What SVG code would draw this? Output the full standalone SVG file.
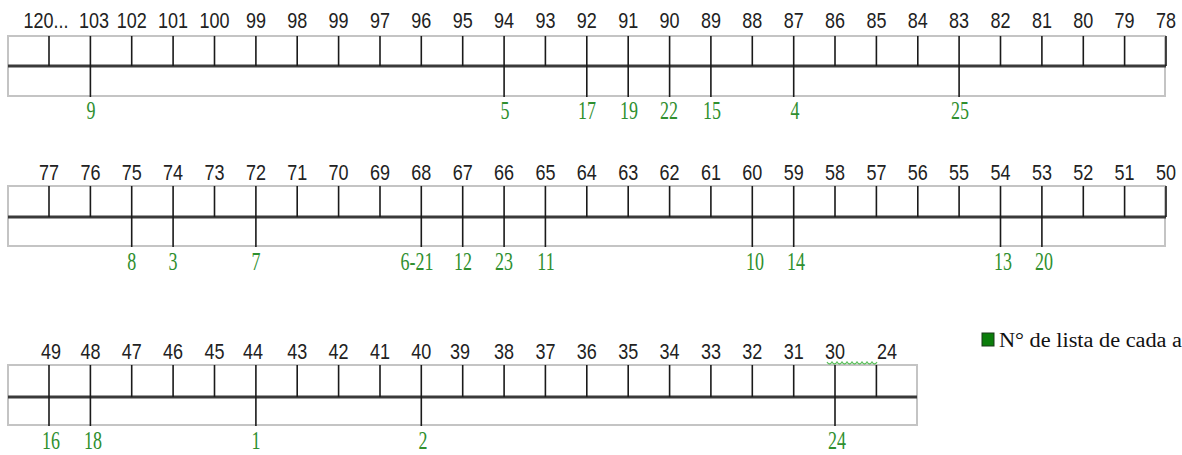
<svg xmlns="http://www.w3.org/2000/svg" width="1182" height="455" viewBox="0 0 1182 455">
<style>
.box{fill:#fff;stroke:#c4c4c4;stroke-width:2}
.mid{stroke:#3a3a3a;stroke-width:3}
.tk{stroke:#1a1a1a;stroke-width:1.6}
.lb{font-family:"Liberation Sans",Arial,sans-serif;font-size:18px;fill:#222;text-anchor:middle}
.gn{font-family:"Liberation Serif","Times New Roman",serif;font-size:18px;fill:#2f8f2f;text-anchor:middle}
.lg{font-family:"Liberation Serif","Times New Roman",serif;font-size:16px;fill:#111}
</style>
<rect width="1182" height="455" fill="#fff"/>

<g id="row1">
<rect class="box" x="8" y="36" width="1157" height="60"/>
<g id="row1-connectors">
<line class="mid" x1="8" y1="66" x2="1166" y2="66"/>
<path class="tk" d="M49 36V66M90.4 36V97M131.7 36V66M173.1 36V66M214.5 36V66M255.9 36V66M297.2 36V66M338.6 36V66M380 36V66M421.3 36V66M462.7 36V66M504.1 36V97M545.4 36V66M586.8 36V97M628.2 36V97M669.6 36V97M710.9 36V97M752.3 36V66M793.7 36V97M835 36V66M876.4 36V66M917.8 36V66M959.1 36V97M1000.5 36V66M1041.9 36V66M1083.3 36V66M1124.6 36V66M1166 36V66"/>
</g>
<g transform="translate(0,28) scale(1,1.25)">
<text class="lb" x="46">120...</text><text class="lb" x="94">103</text><text class="lb" x="131.7">102</text><text class="lb" x="173.1">101</text><text class="lb" x="214.5">100</text><text class="lb" x="255.9">99</text><text class="lb" x="297.2">98</text><text class="lb" x="338.6">99</text><text class="lb" x="380">97</text><text class="lb" x="421.3">96</text><text class="lb" x="462.7">95</text><text class="lb" x="504.1">94</text><text class="lb" x="545.4">93</text><text class="lb" x="586.8">92</text><text class="lb" x="628.2">91</text><text class="lb" x="669.6">90</text><text class="lb" x="710.9">89</text><text class="lb" x="752.3">88</text><text class="lb" x="793.7">87</text><text class="lb" x="835">86</text><text class="lb" x="876.4">85</text><text class="lb" x="917.8">84</text><text class="lb" x="959.1">83</text><text class="lb" x="1000.5">82</text><text class="lb" x="1041.9">81</text><text class="lb" x="1083.3">80</text><text class="lb" x="1124.6">79</text><text class="lb" x="1166">78</text>
</g>
<g transform="translate(0,119) scale(1,1.35)">
<text class="gn" x="91">9</text><text class="gn" x="505">5</text><text class="gn" x="587">17</text><text class="gn" x="629">19</text><text class="gn" x="669">22</text><text class="gn" x="712">15</text><text class="gn" x="795">4</text><text class="gn" x="960">25</text>
</g>
</g>

<g id="row2">
<rect class="box" x="8" y="186" width="1157" height="60"/>
<g id="row2-connectors">
<line class="mid" x1="8" y1="217" x2="1166" y2="217"/>
<path class="tk" d="M49 186V217M90.4 186V217M131.7 186V247M173.1 186V247M214.5 186V217M255.9 186V247M297.2 186V217M338.6 186V217M380 186V217M421.3 186V247M462.7 186V247M504.1 186V247M545.4 186V247M586.8 186V217M628.2 186V217M669.6 186V217M710.9 186V217M752.3 186V247M793.7 186V247M835 186V217M876.4 186V217M917.8 186V217M959.1 186V217M1000.5 186V247M1041.9 186V247M1083.3 186V217M1124.6 186V217M1166 186V217"/>
</g>
<g transform="translate(0,180) scale(1,1.25)">
<text class="lb" x="49">77</text><text class="lb" x="90.4">76</text><text class="lb" x="131.7">75</text><text class="lb" x="173.1">74</text><text class="lb" x="214.5">73</text><text class="lb" x="255.9">72</text><text class="lb" x="297.2">71</text><text class="lb" x="338.6">70</text><text class="lb" x="380">69</text><text class="lb" x="421.3">68</text><text class="lb" x="462.7">67</text><text class="lb" x="504.1">66</text><text class="lb" x="545.4">65</text><text class="lb" x="586.8">64</text><text class="lb" x="628.2">63</text><text class="lb" x="669.6">62</text><text class="lb" x="710.9">61</text><text class="lb" x="752.3">60</text><text class="lb" x="793.7">59</text><text class="lb" x="835">58</text><text class="lb" x="876.4">57</text><text class="lb" x="917.8">56</text><text class="lb" x="959.1">55</text><text class="lb" x="1000.5">54</text><text class="lb" x="1041.9">53</text><text class="lb" x="1083.3">52</text><text class="lb" x="1124.6">51</text><text class="lb" x="1166">50</text>
</g>
<g transform="translate(0,270) scale(1,1.35)">
<text class="gn" x="131.7">8</text><text class="gn" x="173.1">3</text><text class="gn" x="255.9">7</text><text class="gn" x="417">6-21</text><text class="gn" x="463">12</text><text class="gn" x="504">23</text><text class="gn" x="546">11</text><text class="gn" x="755">10</text><text class="gn" x="796">14</text><text class="gn" x="1003">13</text><text class="gn" x="1044">20</text>
</g>
</g>

<g id="row3">
<rect class="box" x="8" y="365" width="909" height="60"/>
<g id="row3-connectors">
<line class="mid" x1="8" y1="397" x2="917" y2="397"/>
<path class="tk" d="M49 365V426M90.4 365V426M131.7 365V397M173.1 365V397M214.5 365V397M255.9 365V426M297.2 365V397M338.6 365V397M380 365V397M421.3 365V426M462.7 365V397M504.1 365V397M545.4 365V397M586.8 365V397M628.2 365V397M669.6 365V397M710.9 365V397M752.3 365V397M793.7 365V397M835 365V426M876.4 365V397"/>
<path d="M827 362q2.5 4 5 0q2.5 4 5 0q2.5 4 5 0q2.5 4 5 0q2.5 4 5 0q2.5 4 5 0q2.5 4 5 0q2.5 4 5 0q2.5 4 5 0q2.5 4 5 0" fill="none" stroke="#5cbf5c" stroke-width="1.3"/>
</g>
<g transform="translate(0,359) scale(1,1.25)">
<text class="lb" x="51">49</text><text class="lb" x="90.4">48</text><text class="lb" x="131.7">47</text><text class="lb" x="173.1">46</text><text class="lb" x="214.5">45</text><text class="lb" x="253">44</text><text class="lb" x="297.2">43</text><text class="lb" x="338.6">42</text><text class="lb" x="380">41</text><text class="lb" x="421.3">40</text><text class="lb" x="460">39</text><text class="lb" x="504.1">38</text><text class="lb" x="545.4">37</text><text class="lb" x="586.8">36</text><text class="lb" x="628.2">35</text><text class="lb" x="669.6">34</text><text class="lb" x="710.9">33</text><text class="lb" x="752.3">32</text><text class="lb" x="793.7">31</text><text class="lb" x="835">30</text><text class="lb" x="887">24</text>
</g>
<g transform="translate(0,449) scale(1,1.35)">
<text class="gn" x="51">16</text><text class="gn" x="93">18</text><text class="gn" x="256">1</text><text class="gn" x="423">2</text><text class="gn" x="837">24</text>
</g>
</g>

<g id="legend">
<rect x="982" y="333" width="12" height="13" fill="#0b7d0b" stroke="#1a3a1a" stroke-width="1"/>
<g transform="translate(0,347) scale(1,1.25)">
<text class="lg" x="999" textLength="183" lengthAdjust="spacingAndGlyphs">N° de lista de cada a</text>
</g>
</g>
</svg>
